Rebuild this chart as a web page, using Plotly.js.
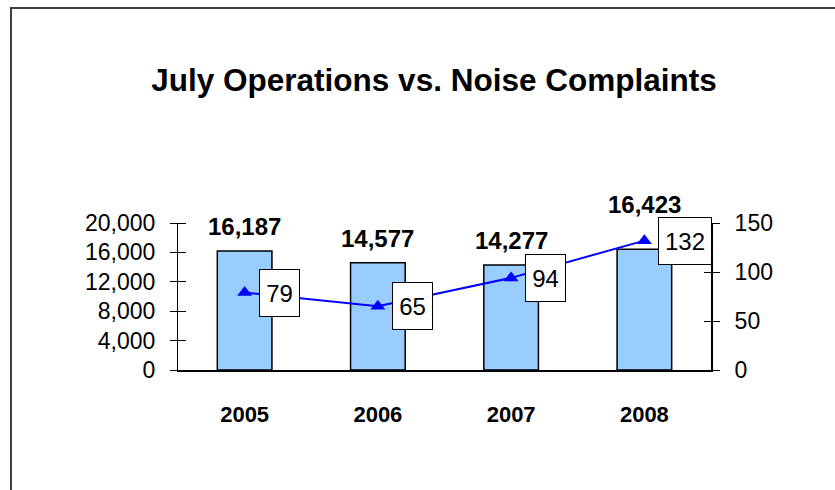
<!DOCTYPE html>
<html>
<head>
<meta charset="utf-8">
<script src="https://cdn.plot.ly/plotly-3.0.1.min.js"></script>
<style>
  html, body { margin: 0; padding: 0; background: #fff; }
  #wrap { position: relative; width: 835px; height: 490px; overflow: hidden; }
  #chart { width: 835px; height: 490px; position: relative; }
  #frame { position: absolute; left: 10px; top: 7px; width: 900px; height: 600px;
           border-left: 2px solid #404040; border-top: 2px solid #404040; pointer-events: none; }
</style>
</head>
<body>
<div id="wrap">
  <div id="chart"></div>
  <div id="frame"></div>
</div>
<script>
const years = ['2005', '2006', '2007', '2008'];
const operations = [16187, 14577, 14277, 16423];
const complaints = [79, 65, 94, 132];
const barLabelLift = [9, 9, 9, 29];

const FONT = 'Arial, "Liberation Sans", sans-serif';
const PLOT_W = 835 - 178 - 124;
const HALF_TICK = 8;

const bars = {
  type: 'bar', x: years, y: operations, xaxis: 'x', yaxis: 'y',
  marker: { color: '#99CCFF', line: { color: '#000000', width: 1.5 } },
  hoverinfo: 'skip', showlegend: false
};
const line = {
  type: 'scatter', mode: 'lines+markers', x: years, y: complaints, xaxis: 'x', yaxis: 'y2',
  line: { color: '#0000FF', width: 2 },
  marker: { symbol: 'triangle-up', size: 13, color: '#0000FF' },
  hoverinfo: 'skip', showlegend: false
};
// invisible helpers so the axis-line overlay axes get drawn
const helperLeft = {
  type: 'scatter', mode: 'markers', x: years, y: operations, xaxis: 'x', yaxis: 'y3',
  marker: { opacity: 0 }, hoverinfo: 'skip', showlegend: false
};
const helperRight = {
  type: 'scatter', mode: 'markers', x: years, y: complaints, xaxis: 'x', yaxis: 'y4',
  marker: { opacity: 0 }, hoverinfo: 'skip', showlegend: false
};

// annotation x uses the category index (a numeric-looking category name would be read as a coordinate)
const annotations = [];
years.forEach((yr, i) => {
  annotations.push({
    x: i, y: operations[i], xref: 'x', yref: 'y',
    text: '<b>' + operations[i].toLocaleString('en-US') + '</b>',
    showarrow: false, yanchor: 'bottom', yshift: barLabelLift[i],
    font: { family: FONT, size: 24, color: '#000' }
  });
  const t = String(complaints[i]);
  annotations.push({
    x: i, y: complaints[i], xref: 'x', yref: 'y2',
    text: t, showarrow: false, xanchor: 'left', yanchor: 'middle', xshift: 14,
    bgcolor: '#FFFFFF', bordercolor: '#000000', borderwidth: 1, borderpad: 0,
    width: Math.round(t.length * 13 + 13), height: 46,
    font: { family: FONT, size: 24, color: '#000' }
  });
});

const layout = {
  width: 835, height: 490,
  margin: { l: 178, r: 124, t: 223, b: 120 },
  paper_bgcolor: '#FFFFFF', plot_bgcolor: 'rgba(0,0,0,0)',
  font: { family: FONT, color: '#000' },
  title: {
    text: '<b>July Operations vs. Noise Complaints</b>',
    font: { family: FONT, size: 31.5, color: '#000' },
    x: 434 / 835, xref: 'container', xanchor: 'center',
    y: 1 - 80 / 490, yref: 'container', yanchor: 'middle'
  },
  bargap: 0.59,
  xaxis: {
    type: 'category', range: [-0.5, 3.5], showline: true, linecolor: '#000', linewidth: 1.5,
    ticks: '', showgrid: false, zeroline: false,
    tickfont: { family: FONT, size: 22, color: '#000', weight: 'bold' },
    ticklabelstandoff: 24
  },
  // tick-bearing axes are shifted half a tick inward so their ticks cross the axis lines
  yaxis: {
    range: [0, 20000], dtick: 4000, tick0: 0, tickformat: ',d',
    anchor: 'free', position: HALF_TICK / PLOT_W,
    showline: false,
    ticks: 'outside', ticklen: 2 * HALF_TICK, tickcolor: '#000', tickwidth: 1,
    showgrid: false, zeroline: false, ticklabelstandoff: 10,
    tickfont: { family: FONT, size: 23, color: '#000' }
  },
  yaxis3: {
    range: [0, 20000], overlaying: 'y', side: 'left', anchor: 'x',
    showline: true, linecolor: '#000', linewidth: 1.5,
    ticks: '', showticklabels: false, showgrid: false, zeroline: false
  },
  yaxis2: {
    range: [0, 150], dtick: 50, tick0: 0, overlaying: 'y', side: 'right',
    anchor: 'free', position: 1 - HALF_TICK / PLOT_W,
    showline: false,
    ticks: 'outside', ticklen: 2 * HALF_TICK, tickcolor: '#000', tickwidth: 1,
    showgrid: false, zeroline: false, ticklabelstandoff: 10,
    tickfont: { family: FONT, size: 23, color: '#000' }
  },
  yaxis4: {
    range: [0, 150], overlaying: 'y', side: 'right', anchor: 'x',
    showline: true, linecolor: '#000', linewidth: 1.5,
    ticks: '', showticklabels: false, showgrid: false, zeroline: false
  },
  annotations: annotations
};

Plotly.newPlot('chart', [bars, helperLeft, helperRight, line], layout, { displayModeBar: false, staticPlot: true });
</script>
</body>
</html>
